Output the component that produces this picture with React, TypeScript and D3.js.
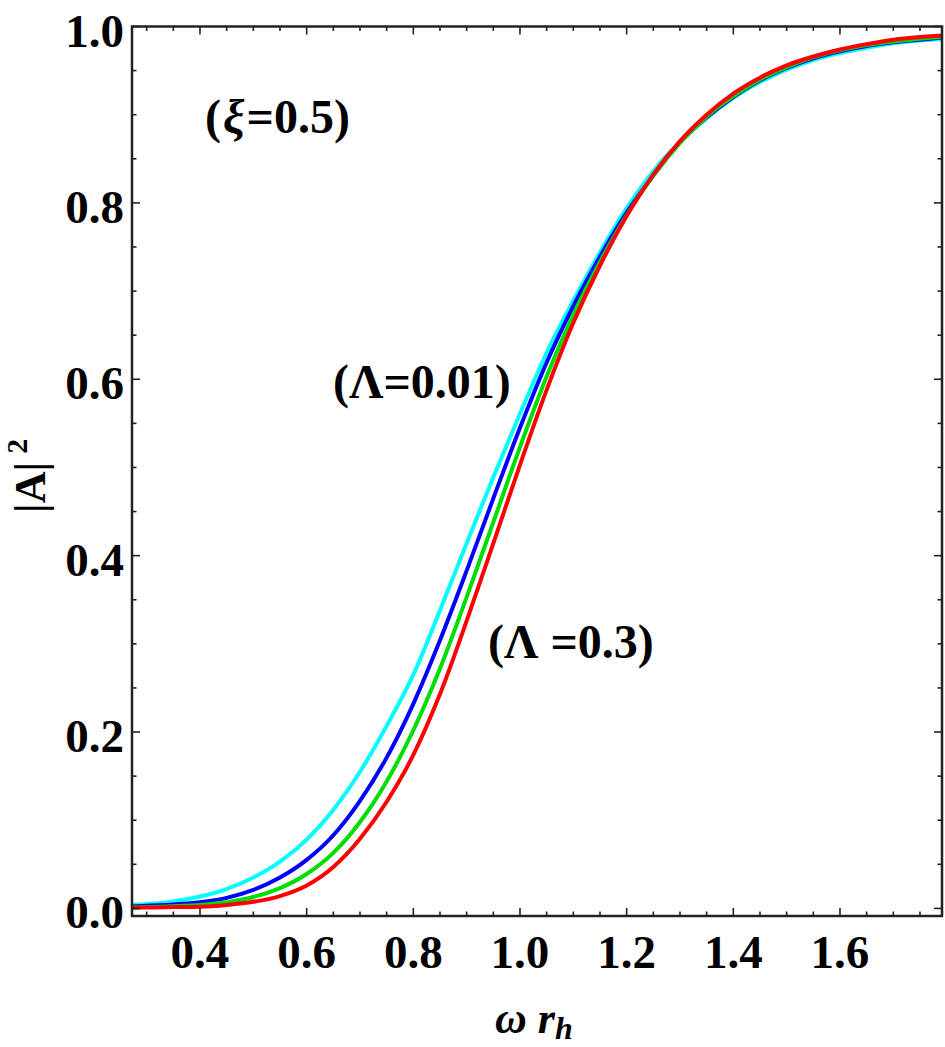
import React from "react";
import * as d3 from "d3";

// omega * r_h grid
const omega = [0.27, 0.3, 0.35, 0.4, 0.45, 0.5, 0.55, 0.6, 0.65, 0.7, 0.75, 0.8, 0.85, 0.9, 0.95, 1.0,
  1.05, 1.1, 1.15, 1.2, 1.25, 1.3, 1.35, 1.4, 1.45, 1.5, 1.55, 1.6, 1.65, 1.7, 1.75, 1.8];

// greybody factor |A|^2, one array per curve
const cyanVals = [0.004, 0.005, 0.008, 0.0135, 0.022, 0.035, 0.053, 0.078, 0.112, 0.155, 0.207, 0.265, 0.338, 0.414,
  0.489, 0.561, 0.63, 0.689, 0.744, 0.794, 0.836, 0.869, 0.896, 0.919, 0.937, 0.951, 0.962, 0.97, 0.976, 0.981, 0.984, 0.986];
const blueVals = [0.002, 0.003, 0.0045, 0.007, 0.012, 0.021, 0.035, 0.055, 0.083, 0.122, 0.171, 0.232, 0.304, 0.383,
  0.465, 0.545, 0.619, 0.683, 0.739, 0.789, 0.831, 0.869, 0.897, 0.92, 0.939, 0.953, 0.964, 0.972, 0.978, 0.982, 0.985, 0.988];
const greenVals = [0.001, 0.0015, 0.0025, 0.004, 0.007, 0.013, 0.023, 0.039, 0.063, 0.098, 0.144, 0.202, 0.272, 0.353,
  0.438, 0.523, 0.603, 0.673, 0.733, 0.786, 0.831, 0.868, 0.898, 0.921, 0.94, 0.954, 0.965, 0.973, 0.979, 0.983, 0.986, 0.989];
const redVals = [0.001, 0.001, 0.0015, 0.002, 0.004, 0.0075, 0.014, 0.026, 0.047, 0.079, 0.121, 0.174, 0.243, 0.326,
  0.414, 0.503, 0.588, 0.664, 0.729, 0.785, 0.832, 0.87, 0.9, 0.924, 0.942, 0.956, 0.966, 0.974, 0.98, 0.985, 0.988, 0.99];

const series = [
  { name: "cyan", color: "#00ffff", values: cyanVals },
  { name: "blue", color: "#0000ff", values: blueVals },
  { name: "green", color: "#00dd00", values: greenVals },
  { name: "red", color: "#ff0000", values: redVals },
];

const xTicks = [0.4, 0.6, 0.8, 1.0, 1.2, 1.4, 1.6];
const yTicks = [0.0, 0.2, 0.4, 0.6, 0.8, 1.0];

export default function App() {
  const W = 945;
  const H = 1047;
  const left = 132, right = 942, top = 26.5, bottom = 916;

  const x = d3.scaleLinear().domain([0.2725, 1.7913]).range([left, right]);
  const y = d3.scaleLinear().domain([-0.0086, 1.0]).range([bottom, top]);

  const line = d3.line<number>()
    .x((_, i) => x(omega[i]))
    .y((v) => y(v))
    .curve(d3.curveMonotoneX);

  const font = "'Liberation Serif', 'Times New Roman', serif";

  // minor ticks every 0.05
  const xMinor = d3.range(6, 36).map((k) => k * 0.05).filter((v) => v > 0.2725 && v < 1.7913);
  const yMinor = d3.range(0, 21).map((k) => k * 0.05);
  const isMajor = (v: number) => Math.abs(v * 5 - Math.round(v * 5)) < 1e-6;

  return (
    <svg width={W} height={H} style={{ position: "absolute", left: 0, top: 0, background: "#fff" }}
      fontFamily={font} fontWeight="bold">
      <defs>
        <clipPath id="plot">
          <rect x={left} y={top} width={right - left} height={bottom - top} />
        </clipPath>
      </defs>

      <g clipPath="url(#plot)">
        {series.map((s) => (
          <path key={s.name} d={line(s.values) || ""} fill="none" stroke={s.color} strokeWidth={4} />
        ))}
      </g>

      {/* ticks on all four sides */}
      <g stroke="#222" strokeWidth={1.6}>
        {xMinor.map((v) => {
          const len = isMajor(v) ? 8 : 4.5;
          return (
            <g key={"x" + v}>
              <line x1={x(v)} x2={x(v)} y1={bottom} y2={bottom - len} />
              <line x1={x(v)} x2={x(v)} y1={top} y2={top + len} />
            </g>
          );
        })}
        {yMinor.map((v) => {
          const len = isMajor(v) ? 8 : 4.5;
          return (
            <g key={"y" + v}>
              <line x1={left} x2={left + len} y1={y(v)} y2={y(v)} />
              <line x1={right} x2={right - len} y1={y(v)} y2={y(v)} />
            </g>
          );
        })}
      </g>

      <rect x={left} y={top} width={right - left} height={bottom - top} fill="none" stroke="#222" strokeWidth={2.5} />

      {/* tick labels */}
      <g fontSize={47} fill="#000">
        {xTicks.map((v) => (
          <text key={"xl" + v} x={x(v)} y={968} textAnchor="middle">{v.toFixed(1)}</text>
        ))}
        {yTicks.map((v) => (
          <text key={"yl" + v} x={124} y={y(v) + 20} textAnchor="end">{v.toFixed(1)}</text>
        ))}
      </g>

      {/* axis labels */}
      <text x={495} y={1033} fontSize={44} fontStyle="italic">
        ω r<tspan fontSize={32} dy={6}>h</tspan>
      </text>
      <text transform="translate(45, 513) rotate(-90)" fontSize={44}>
        |A|<tspan fontSize={30} dx={8} dy={-18}>2</tspan>
      </text>

      {/* annotations */}
      <text x={205} y={133} fontSize={48}>
        (<tspan fontStyle="italic" dx={2}>ξ</tspan><tspan dx={2}>=0.5)</tspan>
      </text>
      <text x={333} y={398} fontSize={48}>(Λ=0.01)</text>
      <text x={488} y={658} fontSize={48}>(Λ =0.3)</text>
    </svg>
  );
}
